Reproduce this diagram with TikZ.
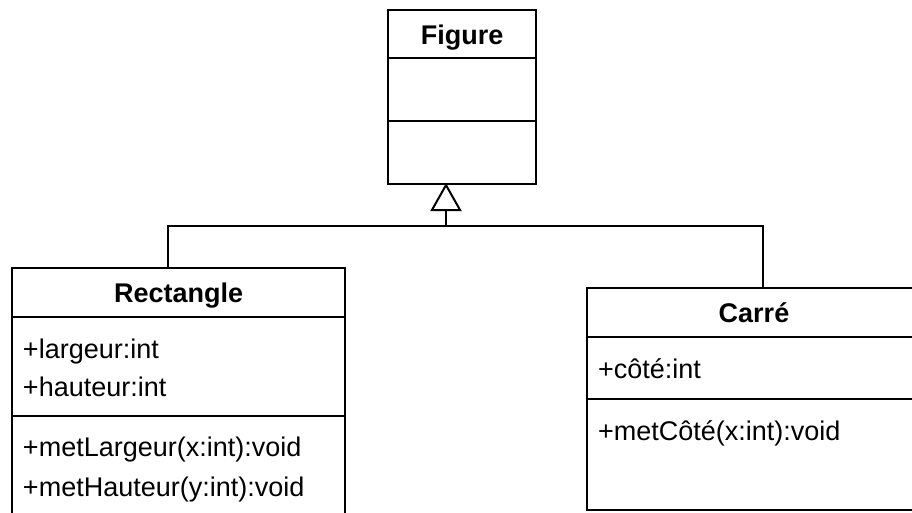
\documentclass[tikz,border=0pt]{standalone}
\usepackage{fontspec}
\setmainfont{Liberation Sans}
\usetikzlibrary{arrows.meta}
\begin{document}
\begin{tikzpicture}[x=1pt,y=-1pt,line width=2pt,
    classbox/.style={draw,anchor=north west,inner sep=0pt},
    title/.style={anchor=base,inner sep=0pt,font=\fontsize{27}{32}\selectfont\bfseries},
    member/.style={anchor=base west,inner sep=0pt,font=\fontsize{27}{32}\selectfont},
    inherit/.style={-{Triangle[open,length=28pt,width=31pt]}}]
    \useasboundingbox (0,0) rectangle (912,512);
    \clip (0,0) rectangle (912,512);

    % classes
    \node[classbox,minimum width=147.7pt,minimum height=173.4pt] (figure) at (387.3,9.3) {};
    \node[title] (figureName) at (figure.north |- 0,44.3) {Figure};
    \draw (figure.west |- 0,58.3) -- (figure.east |- 0,58.3);
    \draw (figure.west |- 0,120.7) -- (figure.east |- 0,120.7);

    \node[classbox,minimum width=333.3pt,minimum height=300pt] (rect) at (11,266.7) {};
    \node[title] (rectName) at (rect.north |- 0,302.7) {Rectangle};
    \draw (rect.west |- 0,316.7) -- (rect.east |- 0,316.7);
    \node[member] (largeur) at (22,358) {+largeur:int};
    \node[member] (hauteur) at (22,396.7) {+hauteur:int};
    \draw (rect.west |- 0,415.7) -- (rect.east |- 0,415.7);
    \node[member] (metLargeur) at (22,456.7) {+metLargeur(x:int):void};
    \node[member] (metHauteur) at (22,496.7) {+metHauteur(y:int):void};

    \node[classbox,minimum width=334pt,minimum height=222pt] (carre) at (586,287.3) {};
    \node[title] (carreName) at (carre.north |- 0,322.7) {Carré};
    \draw (carre.west |- 0,337.3) -- (carre.east |- 0,337.3);
    \node[member] (cote) at (597,378) {+côté:int};
    \draw (carre.west |- 0,399.3) -- (carre.east |- 0,399.3);
    \node[member] (metCote) at (597,440) {+metCôté(x:int):void};

    % inheritance
    \coordinate (tip) at (446,183);
    \coordinate (joint) at (446,226);
    \coordinate (rectTop) at (168.3,266.7);
    \coordinate (carreTop) at (763.3,287.3);
    \draw[inherit] (joint) -- (tip);
    \draw (rectTop) |- (joint) -| (carreTop);
\end{tikzpicture}
\end{document}
